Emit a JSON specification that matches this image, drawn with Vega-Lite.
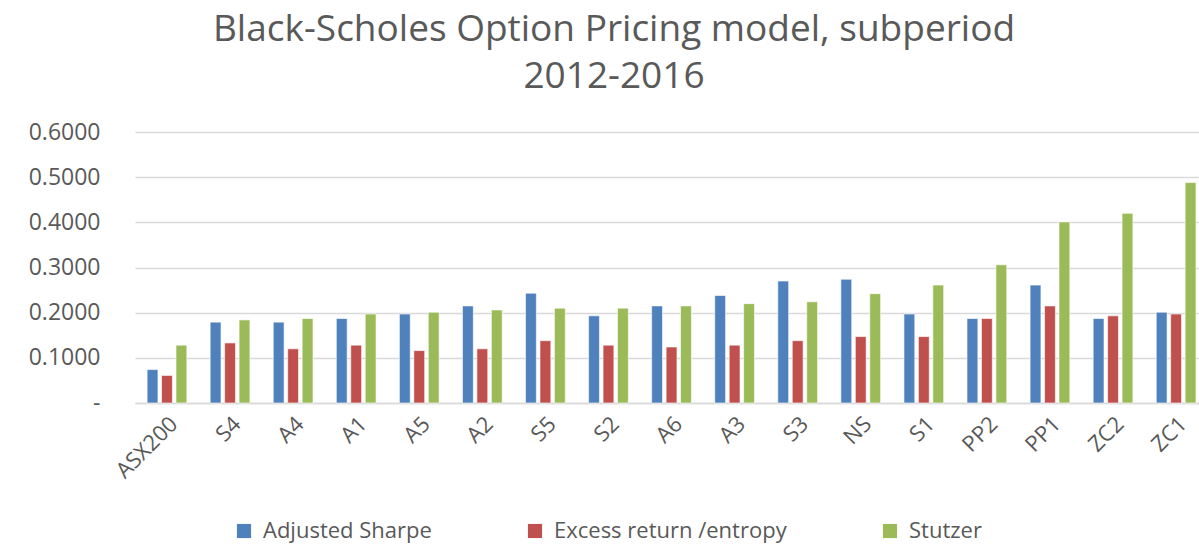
{
  "$schema": "https://vega.github.io/schema/vega-lite/v6.json",
  "autosize": "none",
  "width": 1064,
  "height": 271,
  "padding": {"left": 135, "top": 132, "right": 0, "bottom": 141},
  "background": "white",
  "title": {
    "text": ["Black-Scholes Option Pricing model, subperiod", "2012-2016"],
    "font": "Open Sans",
    "fontSize": 37,
    "fontWeight": "normal",
    "color": "#595959",
    "anchor": "middle",
    "baseline": "bottom",
    "lineHeight": 47,
    "offset": -12,
    "dx": -53
  },
  "data": {
    "values": [
      {"cat": "ASX200", "series": "Adjusted Sharpe", "v": 0.074},
      {"cat": "ASX200", "series": "Excess return /entropy", "v": 0.061},
      {"cat": "ASX200", "series": "Stutzer", "v": 0.128},
      {"cat": "S4", "series": "Adjusted Sharpe", "v": 0.179},
      {"cat": "S4", "series": "Excess return /entropy", "v": 0.133},
      {"cat": "S4", "series": "Stutzer", "v": 0.184},
      {"cat": "A4", "series": "Adjusted Sharpe", "v": 0.179},
      {"cat": "A4", "series": "Excess return /entropy", "v": 0.120},
      {"cat": "A4", "series": "Stutzer", "v": 0.187},
      {"cat": "A1", "series": "Adjusted Sharpe", "v": 0.187},
      {"cat": "A1", "series": "Excess return /entropy", "v": 0.128},
      {"cat": "A1", "series": "Stutzer", "v": 0.197},
      {"cat": "A5", "series": "Adjusted Sharpe", "v": 0.197},
      {"cat": "A5", "series": "Excess return /entropy", "v": 0.116},
      {"cat": "A5", "series": "Stutzer", "v": 0.201},
      {"cat": "A2", "series": "Adjusted Sharpe", "v": 0.215},
      {"cat": "A2", "series": "Excess return /entropy", "v": 0.120},
      {"cat": "A2", "series": "Stutzer", "v": 0.206},
      {"cat": "S5", "series": "Adjusted Sharpe", "v": 0.243},
      {"cat": "S5", "series": "Excess return /entropy", "v": 0.138},
      {"cat": "S5", "series": "Stutzer", "v": 0.210},
      {"cat": "S2", "series": "Adjusted Sharpe", "v": 0.193},
      {"cat": "S2", "series": "Excess return /entropy", "v": 0.128},
      {"cat": "S2", "series": "Stutzer", "v": 0.210},
      {"cat": "A6", "series": "Adjusted Sharpe", "v": 0.215},
      {"cat": "A6", "series": "Excess return /entropy", "v": 0.124},
      {"cat": "A6", "series": "Stutzer", "v": 0.215},
      {"cat": "A3", "series": "Adjusted Sharpe", "v": 0.238},
      {"cat": "A3", "series": "Excess return /entropy", "v": 0.128},
      {"cat": "A3", "series": "Stutzer", "v": 0.220},
      {"cat": "S3", "series": "Adjusted Sharpe", "v": 0.270},
      {"cat": "S3", "series": "Excess return /entropy", "v": 0.138},
      {"cat": "S3", "series": "Stutzer", "v": 0.224},
      {"cat": "NS", "series": "Adjusted Sharpe", "v": 0.274},
      {"cat": "NS", "series": "Excess return /entropy", "v": 0.147},
      {"cat": "NS", "series": "Stutzer", "v": 0.242},
      {"cat": "S1", "series": "Adjusted Sharpe", "v": 0.197},
      {"cat": "S1", "series": "Excess return /entropy", "v": 0.147},
      {"cat": "S1", "series": "Stutzer", "v": 0.261},
      {"cat": "PP2", "series": "Adjusted Sharpe", "v": 0.187},
      {"cat": "PP2", "series": "Excess return /entropy", "v": 0.187},
      {"cat": "PP2", "series": "Stutzer", "v": 0.306},
      {"cat": "PP1", "series": "Adjusted Sharpe", "v": 0.261},
      {"cat": "PP1", "series": "Excess return /entropy", "v": 0.215},
      {"cat": "PP1", "series": "Stutzer", "v": 0.401},
      {"cat": "ZC2", "series": "Adjusted Sharpe", "v": 0.187},
      {"cat": "ZC2", "series": "Excess return /entropy", "v": 0.193},
      {"cat": "ZC2", "series": "Stutzer", "v": 0.420},
      {"cat": "ZC1", "series": "Adjusted Sharpe", "v": 0.201},
      {"cat": "ZC1", "series": "Excess return /entropy", "v": 0.197},
      {"cat": "ZC1", "series": "Stutzer", "v": 0.488}
    ]
  },
  "mark": {"type": "bar", "stroke": "white", "strokeWidth": 0.6},
  "encoding": {
    "x": {
      "field": "cat",
      "type": "nominal",
      "sort": null,
      "title": null,
      "scale": {"paddingInner": 0.37, "paddingOuter": 0.12, "align": 0.8},
      "axis": {
        "labelAngle": -45,
        "labelFont": "Open Sans",
        "labelFontSize": 22,
        "labelColor": "#595959",
        "labelPadding": 10,
        "ticks": false,
        "domain": true,
        "domainColor": "#d9d9d9",
        "domainWidth": 1.5
      }
    },
    "xOffset": {
      "field": "series",
      "type": "nominal",
      "sort": ["Adjusted Sharpe", "Excess return /entropy", "Stutzer"],
      "scale": {"paddingInner": 0.25}
    },
    "y": {
      "field": "v",
      "type": "quantitative",
      "title": null,
      "scale": {"domain": [0, 0.6], "nice": false},
      "axis": {
        "values": [0, 0.1, 0.2, 0.3, 0.4, 0.5, 0.6],
        "labelExpr": "datum.value == 0 ? '-\u2007\u2007' : format(datum.value, '.4f')",
        "labelFont": "Open Sans",
        "labelFontSize": 23,
        "labelColor": "#595959",
        "labelPadding": 35,
        "ticks": false,
        "domain": false,
        "grid": true,
        "gridColor": "#d9d9d9",
        "gridWidth": 1.5
      }
    },
    "color": {
      "field": "series",
      "type": "nominal",
      "sort": ["Adjusted Sharpe", "Excess return /entropy", "Stutzer"],
      "scale": {"range": ["#4F81BD", "#C0504D", "#9BBB59"]},
      "legend": {
        "title": null,
        "orient": "none",
        "direction": "horizontal",
        "legendX": 98,
        "legendY": 388,
        "symbolType": "square",
        "symbolSize": 200,
        "symbolStrokeWidth": 0,
        "labelFont": "Open Sans",
        "labelFontSize": 22,
        "labelColor": "#595959",
        "labelLimit": 400,
        "labelOffset": 8,
        "columnPadding": 92,
        "symbolOffset": 0
      }
    }
  },
  "config": {"view": {"stroke": null}}
}
